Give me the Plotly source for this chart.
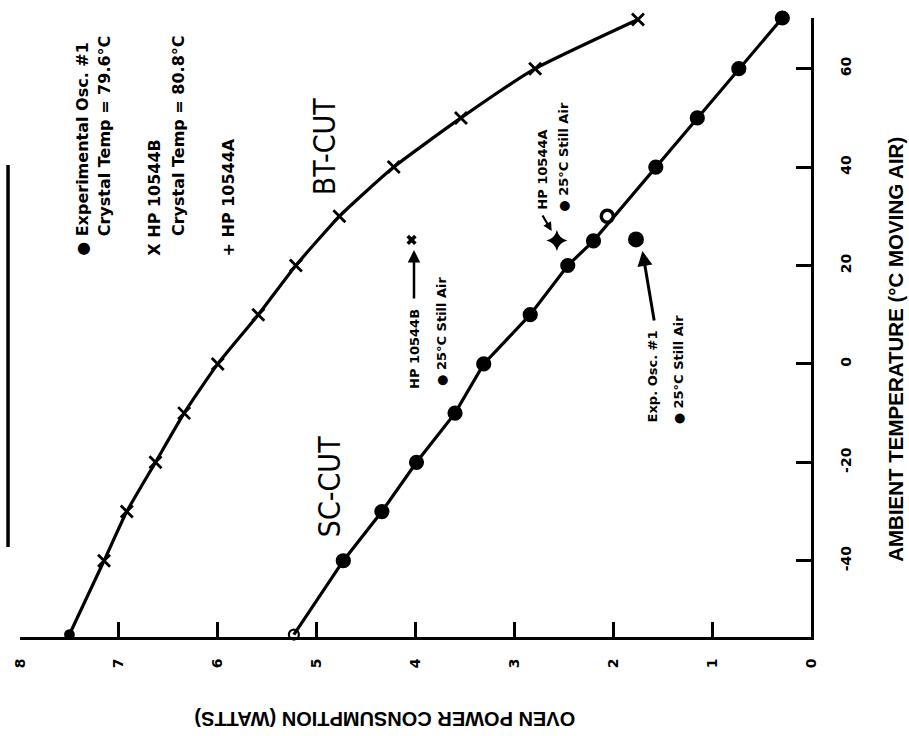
import plotly.graph_objects as go

# ---- data -------------------------------------------------------------
# BT-cut oscillator (HP 10544B): ambient temperature (deg C) vs oven power (W)
bt_temp = [-55, -40, -30, -20, -10, 0, 10, 20, 30, 40, 50, 60, 70]
bt_power = [7.50, 7.15, 6.92, 6.63, 6.34, 6.00, 5.59, 5.21, 4.77, 4.22, 3.54, 2.79, 1.75]

# SC-cut oscillator (Experimental Osc. #1)
sc_temp = [-55, -40, -30, -20, -10, 0, 10, 20, 25, 40, 50, 60, 70.3]
sc_power = [5.23, 4.73, 4.34, 3.99, 3.60, 3.31, 2.84, 2.46, 2.20, 1.57, 1.15, 0.73, 0.29]

# off-curve measurement near 30 deg C
sc_extra_temp = [30]
sc_extra_power = [2.06]

# 25 deg C still-air measurements
still_hp_b_temp, still_hp_b_power = [25.2], [4.04]
still_hp_a_temp, still_hp_a_power = [25.1], [2.57]
still_exp_temp, still_exp_power = [25.3], [1.77]

power_ticks = [0, 1, 2, 3, 4, 5, 6, 7, 8]
temp_ticks = [-40, -20, 0, 20, 40, 60]
temp_tick_text = ["-40", "-20", "0", "20", "40", "60"]

# ---- geometry of the plotting box (pixels) ------------------------------
FIG_W, FIG_H = 909, 736
L, R, T, B = 18, 811, 18, 637


def fx(px):
    return (px - L) / (R - L)


def fy(py):
    return (B - py) / (B - T)


BOLD = "DejaVu Sans"
COND = "DejaVu Sans Condensed, Liberation Sans Narrow, DejaVu Sans"
TITLE = "Liberation Sans, Arial, sans-serif"

fig = go.Figure()

# BT-cut curve
n_bt = len(bt_temp)
fig.add_trace(go.Scatter(
    x=bt_power, y=bt_temp, mode="lines+markers",
    line=dict(color="black", width=3.2, shape="spline", smoothing=0.5),
    marker=dict(symbol=["circle"] + ["x-thin"] * (n_bt - 1),
                size=[8] + [12] * (n_bt - 1), opacity=1,
                color="black", line=dict(color="black", width=2.8)),
    cliponaxis=False, showlegend=False, hoverinfo="skip"))

# SC-cut curve
n_sc = len(sc_temp)
fig.add_trace(go.Scatter(
    x=sc_power, y=sc_temp, mode="lines+markers",
    line=dict(color="black", width=3.2),
    marker=dict(symbol=["circle-open"] + ["circle"] * (n_sc - 1),
                size=[10] + [13] * (n_sc - 1), opacity=1,
                color="black", line=dict(color="black", width=2.2)),
    cliponaxis=False, showlegend=False, hoverinfo="skip"))

fig.add_trace(go.Scatter(
    x=sc_extra_power, y=sc_extra_temp, mode="markers",
    marker=dict(symbol="circle-open", size=12, color="black", opacity=1,
                line=dict(color="black", width=3.5)),
    cliponaxis=False, showlegend=False, hoverinfo="skip"))

# still-air points
fig.add_trace(go.Scatter(
    x=still_hp_b_power, y=still_hp_b_temp, mode="markers",
    marker=dict(symbol="x", size=9, color="black", opacity=1),
    showlegend=False, hoverinfo="skip"))
fig.add_trace(go.Scatter(
    x=still_hp_a_power, y=still_hp_a_temp, mode="markers",
    marker=dict(symbol="star-diamond", size=15, color="black", opacity=1),
    showlegend=False, hoverinfo="skip"))
fig.add_trace(go.Scatter(
    x=still_exp_power, y=still_exp_temp, mode="markers",
    marker=dict(symbol="circle", size=16, color="black", opacity=1),
    showlegend=False, hoverinfo="skip"))

ann = []


def vtext(px, py, text, size, family=BOLD, anchor="bottom", angle=-90, xanchor="center"):
    ann.append(dict(x=fx(px), y=fy(py), xref="paper", yref="paper",
                    text=text, textangle=angle, showarrow=False,
                    xanchor=xanchor, yanchor=anchor,
                    font=dict(family=family, size=size, color="black")))


# key
vtext(80, 258, "<b>● Experimental Osc. #1</b>", 16)
vtext(103, 238, "<b>Crystal Temp = 79.6°C</b>", 16)
vtext(152, 258, "<b>X HP 10544B</b>", 16)
vtext(177, 238, "<b>Crystal Temp = 80.8°C</b>", 16)
vtext(227, 258, "<b>+ HP 10544A</b>", 16)

# curve names
vtext(324, 146, "BT-CUT", 30, family=COND, anchor="middle")
vtext(328, 487, "SC-CUT", 30, family=COND, anchor="middle")

# point labels
vtext(413, 391, "<b>HP 10544B</b>", 13)
vtext(440, 388, "<b>● 25°C Still Air</b>", 13)
vtext(542, 212, "<b>HP 10544A</b>", 13)
vtext(563, 214, "<b>● 25°C Still Air</b>", 13)
vtext(653, 424, "<b>Exp. Osc. #1</b>", 13)
vtext(678, 426, "<b>● 25°C Still Air</b>", 13)

# axis titles
vtext(895, 349, "<b>AMBIENT TEMPERATURE (°C MOVING AIR)</b>", 20.5, family=TITLE, anchor="middle")
vtext(384, 719, "<b>OVEN POWER CONSUMPTION (WATTS)</b>", 20, family=TITLE, anchor="middle", angle=180)


def arrow(hx, hy, tx, ty, width=2.5, size=1.0):
    ann.append(dict(x=fx(hx), y=fy(hy), xref="paper", yref="paper",
                    ax=tx - hx, ay=ty - hy, text="", showarrow=True,
                    arrowhead=2, arrowsize=size, arrowwidth=width,
                    arrowcolor="black", standoff=0, startstandoff=0))


arrow(413, 250, 413, 300)
arrow(551, 231, 541, 214, width=2.2, size=0.8)
arrow(642, 251, 654, 322, width=3)

fig.update_layout(
    width=FIG_W, height=FIG_H,
    margin=dict(l=L, r=FIG_W - R, t=T, b=FIG_H - B, pad=0),
    paper_bgcolor="white", plot_bgcolor="white",
    annotations=ann,
    shapes=[dict(type="line", xref="paper", yref="paper",
                 x0=fx(6), x1=fx(6), y0=fy(165), y1=fy(547),
                 line=dict(color="black", width=3.5))],
    xaxis=dict(range=[8, 0], tickvals=power_ticks, ticktext=[str(v) for v in power_ticks],
               showgrid=False, zeroline=False, showline=True, linecolor="black",
               linewidth=3, ticks="inside", ticklen=15, tickwidth=2.5, tickcolor="black",
               tickangle=-90, ticklabelstandoff=13,
               tickfont=dict(family=BOLD, size=14, color="black", weight="bold")),
    yaxis=dict(range=[-55.5, 70.3], side="right", tickvals=temp_ticks, ticktext=temp_tick_text,
               showgrid=False, zeroline=False, showline=True, linecolor="black",
               linewidth=3, ticks="inside", ticklen=15, tickwidth=2.5, tickcolor="black",
               tickangle=-90, ticklabelstandoff=20,
               tickfont=dict(family=BOLD, size=14, color="black", weight="bold")),
)

fig.write_html("out.html")
